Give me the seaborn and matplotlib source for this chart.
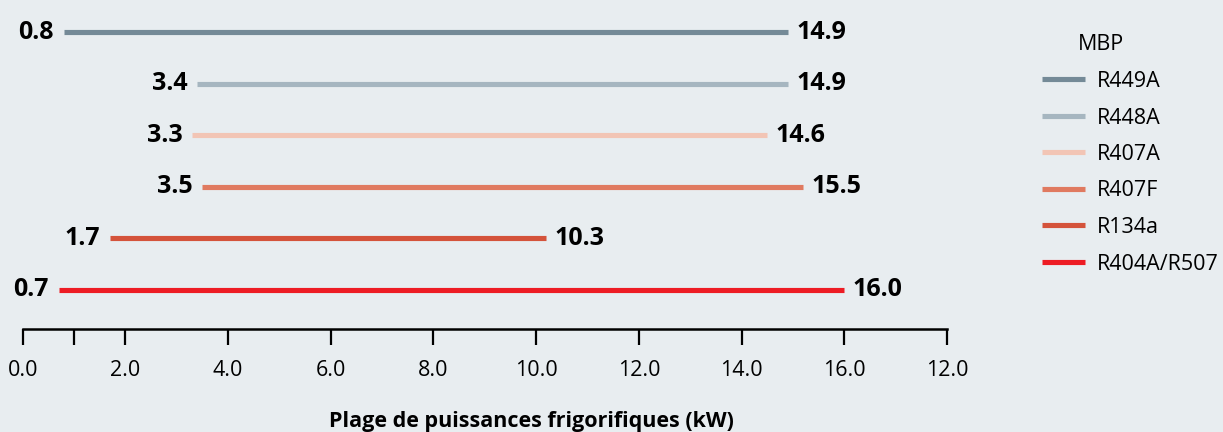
import pandas as pd
import matplotlib
matplotlib.use("Agg")
import matplotlib.pyplot as plt
import seaborn as sns

# data
fluides = ["R449A", "R448A", "R407A", "R407F", "R134a", "R404A/R507"]
mini = [0.8, 3.4, 3.3, 3.5, 1.7, 0.7]
maxi = [14.9, 14.9, 14.5, 15.2, 10.2, 16.0]
mini_labels = ["0.8", "3.4", "3.3", "3.5", "1.7", "0.7"]
maxi_labels = ["14.9", "14.9", "14.6", "15.5", "10.3", "16.0"]
couleurs = ["#748A97", "#A6B6C0", "#F2C5B5", "#E07A60", "#D4533B", "#ED1C24"]

tick_pos = [0, 1, 2, 4, 6, 8, 10, 12, 14, 16, 18]
tick_labels = ["0.0", "", "2.0", "4.0", "6.0", "8.0", "10.0", "12.0", "14.0", "16.0", "12.0"]

bg = "#E8EDF0"
sns.set_style("white", {"axes.facecolor": bg, "figure.facecolor": bg,
                        "text.color": "black", "xtick.color": "black",
                        "xtick.bottom": True})
plt.rcParams["font.family"] = ["Open Sans", "DejaVu Sans"]

# long table: two points per refrigerant
rows = []
for i, f in enumerate(fluides):
    rows.append({"fluide": f, "kW": mini[i], "pos": i})
    rows.append({"fluide": f, "kW": maxi[i], "pos": i})
df = pd.DataFrame(rows)

fig = plt.figure(figsize=(12.23, 4.32), dpi=100)
ax = fig.add_axes([22.7 / 1223, 103 / 432, 924.3 / 1223, 323 / 432])

sns.lineplot(data=df, x="kW", y="pos", hue="fluide", palette=dict(zip(fluides, couleurs)),
             estimator=None, sort=False, linewidth=3.7, ax=ax)
for line in ax.lines:
    line.set_solid_capstyle("butt")

for i in range(len(fluides)):
    ax.annotate(mini_labels[i], (mini[i], i), xytext=(-7, 0), textcoords="offset points",
                ha="right", va="center", fontsize=18, fontweight="bold", color="black")
    ax.annotate(maxi_labels[i], (maxi[i], i), xytext=(6, 0), textcoords="offset points",
                ha="left", va="center", fontsize=18, fontweight="bold", color="black")

ax.set_xlim(0, 18)
ax.set_ylim(5.756, -0.504)
ax.set_xticks(tick_pos)
ax.set_xticklabels(tick_labels, fontsize=15.5, color="black")
ax.set_yticks([])
ax.set_ylabel("")
ax.tick_params(axis="x", bottom=True, direction="out", length=11.5, width=1.6, pad=11,
               color="black")
for s in ["top", "right", "left"]:
    ax.spines[s].set_visible(False)
ax.spines["bottom"].set_linewidth(1.8)
ax.spines["bottom"].set_color("black")

ax.set_xlabel("Plage de puissances frigorifiques (kW)", fontsize=15.5, fontweight="bold",
              color="black")
ax.xaxis.label.set_va("center")
ax.xaxis.set_label_coords((531 - 22.7) / 924.3, -0.285)

handles, labels = ax.get_legend_handles_labels()
ax.get_legend().remove()
leg = fig.legend(handles, labels, loc="upper left", bbox_to_anchor=(1042 / 1223, 1 - 71 / 432),
                 frameon=False, fontsize=15.5, handlelength=2.0, handletextpad=0.55,
                 labelspacing=0.72, borderpad=0, borderaxespad=0)
for t in leg.get_texts():
    t.set_color("black")
fig.text(1101 / 1223, 1 - 44 / 432, "MBP", ha="center", va="center", fontsize=15.5,
         color="black")

fig.savefig("out.png", dpi=100, facecolor=bg)
